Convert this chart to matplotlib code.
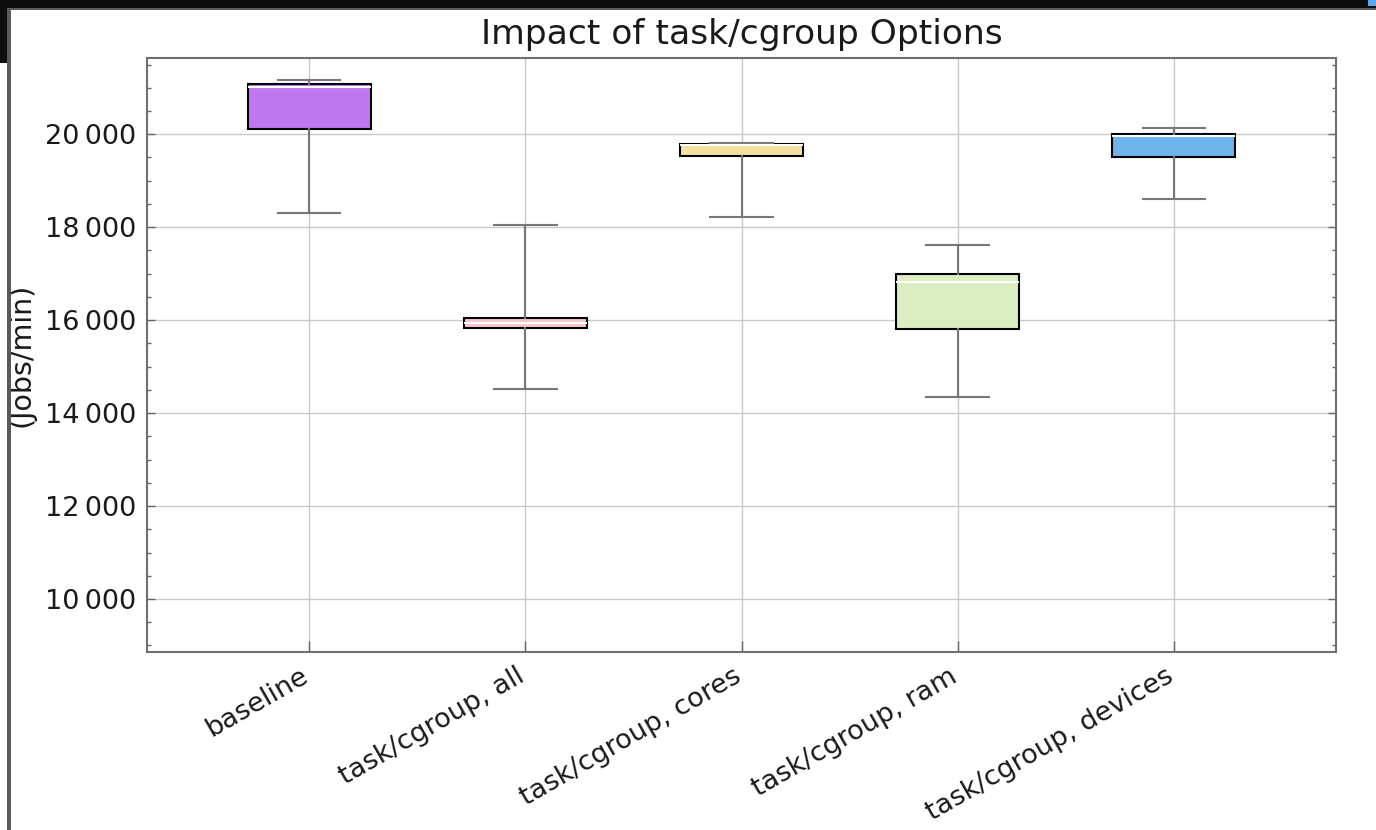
import matplotlib
matplotlib.use("Agg")
import matplotlib.pyplot as plt
import matplotlib.transforms as mtransforms
from matplotlib.patches import Rectangle
from matplotlib.ticker import MultipleLocator, FuncFormatter, NullFormatter

# Throughput summary per configuration (jobs/min)
categories = ["baseline", "task/cgroup, all", "task/cgroup, cores",
              "task/cgroup, ram", "task/cgroup, devices"]
whisker_low = [18300, 14510, 18215, 14340, 18600]
q1 = [20110, 15835, 19540, 15800, 19505]
median = [21010, 15940, 19760, 16825, 19965]
q3 = [21075, 16045, 19785, 16995, 20000]
whisker_high = [21160, 18045, 19815, 17620, 20135]
box_colors = ["#c178ee", "#f4c8cc", "#f4e0a0", "#ddedc2", "#6db3ec"]

W, H = 1376, 830
fig = plt.figure(figsize=(W / 100, H / 100), dpi=100)
fig.patch.set_facecolor("white")
ax = fig.add_axes([147 / W, 1 - 652 / H, (1336 - 147) / W, (652 - 58) / H])

stats = []
for i, name in enumerate(categories):
    stats.append(dict(label=name, whislo=whisker_low[i], q1=q1[i], med=median[i],
                      q3=q3[i], whishi=whisker_high[i], fliers=[]))

positions = list(range(1, len(categories) + 1))
bp = ax.bxp(stats, positions=positions, widths=0.57, capwidths=0.29,
            patch_artist=True, showfliers=False,
            boxprops=dict(edgecolor="black", linewidth=1.5),
            medianprops=dict(color="white", linewidth=1.5),
            whiskerprops=dict(color="#777777", linewidth=1.5),
            capprops=dict(color="#777777", linewidth=1.5))
for patch, c in zip(bp["boxes"], box_colors):
    patch.set_facecolor(c)

ax.set_xlim(0.25, 5.75)
ax.set_ylim(8860, 21640)
ax.set_xticks(positions)
ax.xaxis.set_major_formatter(NullFormatter())

# rotated category labels, nudged slightly left of their ticks
label_offset = mtransforms.ScaledTranslation(-9 / 100, -8 / 72, fig.dpi_scale_trans)
for pos, name in zip(positions, categories):
    ax.text(pos, 0, name, transform=ax.get_xaxis_transform() + label_offset,
            rotation=30, rotation_mode="anchor", ha="right", va="top",
            fontsize=19.5, color="#1a1a1a")

ax.yaxis.set_major_locator(MultipleLocator(2000))
ax.yaxis.set_minor_locator(MultipleLocator(500))
ax.yaxis.set_major_formatter(FuncFormatter(
    lambda v, p: f"{int(v):,}".replace(",", "\u2009")))
ax.tick_params(axis="y", which="major", direction="in", length=6, width=1,
               color="#666666", labelsize=19.5, labelcolor="#1a1a1a",
               left=True, right=True, pad=8)
ax.tick_params(axis="y", which="minor", direction="in", length=3, width=1,
               color="#666666", left=True, right=True)
ax.tick_params(axis="x", which="major", direction="in", length=8, width=1,
               color="#666666", pad=8)
ax.grid(True, which="major", color="#c8c8c8", linewidth=1)
ax.set_axisbelow(True)
for s in ax.spines.values():
    s.set_color("#707070")
    s.set_linewidth(1.5)

ax.set_title("Impact of task/cgroup Options", fontsize=24.8, pad=10,
             color="#1a1a1a")
ax.set_ylabel("(Jobs/min)", fontsize=20.5, color="#1a1a1a")
ax.yaxis.set_label_coords(-111 / (1336 - 147), 0.5)

# dark window frame along the top and left edges
def px_rect(x0, y0, x1, y1, color):
    fig.add_artist(Rectangle((x0 / W, 1 - y1 / H), (x1 - x0) / W, (y1 - y0) / H,
                             transform=fig.transFigure, facecolor=color,
                             edgecolor="none", zorder=10))

px_rect(0, 0, W, 8, "#0d0d0d")
px_rect(0, 0, 7, 63, "#0d0d0d")
px_rect(7, 8, W, 10, "#5a5a5a")
px_rect(7, 8, 11, H, "#5a5a5a")
px_rect(1368, 0, W, 6, "#5aa8e8")

fig.savefig("out.png", dpi=100)
